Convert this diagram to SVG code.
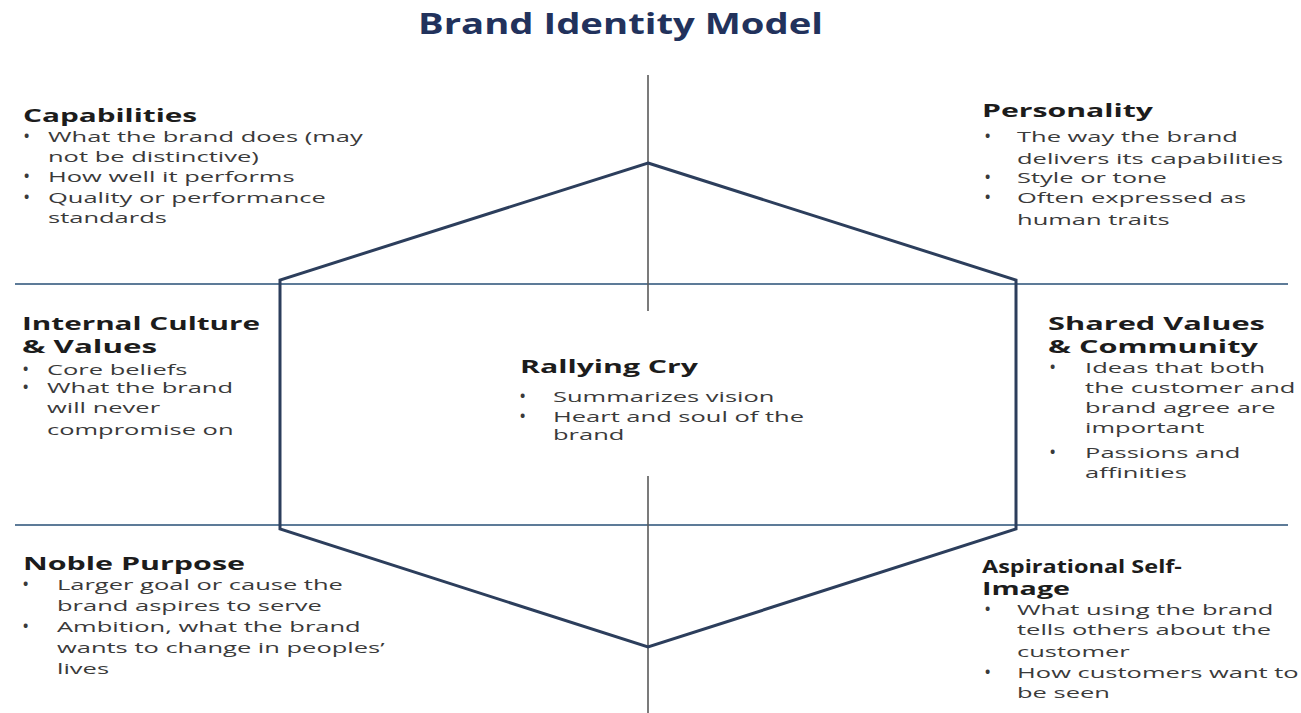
<svg xmlns="http://www.w3.org/2000/svg" width="1301" height="713" viewBox="0 0 1301 713">
<style>
.t{font-family:"Open Sans","Liberation Sans",sans-serif;font-weight:bold;font-size:28px;fill:#22325c}
.h{font-family:"Open Sans","Liberation Sans",sans-serif;font-weight:bold;font-size:17px;fill:#1c1c1c}
.b{font-family:"Open Sans","Liberation Sans",sans-serif;font-size:15px;fill:#3a3a3a}
.d{font-family:"Open Sans","Liberation Sans",sans-serif;font-weight:bold;font-size:14px;fill:#3a3a3a}
.hex{fill:none;stroke:#2c3e5c;stroke-width:3;stroke-linejoin:miter}
.hl{stroke:#5d7b98;stroke-width:2.2}
.vl{stroke:#5a5a5a;stroke-width:1.6}
</style>
<rect width="1301" height="713" fill="#ffffff"/>
<g id="title"><text class="t" x="418" y="34" textLength="405" lengthAdjust="spacingAndGlyphs">Brand Identity Model</text></g>
<g id="connectors">
<line class="hl" x1="15" y1="284" x2="1288" y2="284"/>
<line class="hl" x1="15" y1="525" x2="1288" y2="525"/>
<line class="vl" x1="648" y1="75" x2="648" y2="311"/>
<line class="vl" x1="648" y1="476" x2="648" y2="713"/>
<path class="hex" d="M648,163 L1016,280 L1016,529 L648,647 L280,529 L280,280 Z"/>
</g>
<g id="capabilities">
<text class="d" x="24" y="141">•</text><text class="d" x="24" y="181">•</text><text class="d" x="24" y="202">•</text>
<g transform="translate(23,0) scale(1.7,1)">
<text class="h" x="0" y="122" textLength="102.4" lengthAdjust="spacingAndGlyphs">Capabilities</text>
<text class="b" x="14.7" y="142">What the brand does (may</text>
<text class="b" x="14.7" y="162">not be distinctive)</text>
<text class="b" x="14.7" y="182">How well it performs</text>
<text class="b" x="14.7" y="203">Quality or performance</text>
<text class="b" x="14.7" y="223">standards</text>
</g>
</g>
<g id="personality">
<text class="d" x="985" y="141">•</text><text class="d" x="985" y="182">•</text><text class="d" x="985" y="202">•</text>
<g transform="translate(982,0) scale(1.7,1)">
<text class="h" x="0" y="117" textLength="100.6" lengthAdjust="spacingAndGlyphs">Personality</text>
<text class="b" x="20.6" y="142">The way the brand</text>
<text class="b" x="20.6" y="164">delivers its capabilities</text>
<text class="b" x="20.6" y="183">Style or tone</text>
<text class="b" x="20.6" y="203">Often expressed as</text>
<text class="b" x="20.6" y="225">human traits</text>
</g>
</g>
<g id="internal-culture">
<text class="d" x="23" y="374">•</text><text class="d" x="23" y="392">•</text>
<g transform="translate(22,0) scale(1.7,1)">
<text class="h" x="0" y="330" textLength="140" lengthAdjust="spacingAndGlyphs">Internal Culture</text>
<text class="h" x="0" y="353" textLength="79.4" lengthAdjust="spacingAndGlyphs">&amp; Values</text>
<text class="b" x="14.7" y="375">Core beliefs</text>
<text class="b" x="14.7" y="393">What the brand</text>
<text class="b" x="14.7" y="413">will never</text>
<text class="b" x="14.7" y="435">compromise on</text>
</g>
</g>
<g id="rallying-cry">
<text class="d" x="520" y="401">•</text><text class="d" x="520" y="421">•</text>
<g transform="translate(520,0) scale(1.7,1)">
<text class="h" x="0" y="373" textLength="104.7" lengthAdjust="spacingAndGlyphs">Rallying Cry</text>
<text class="b" x="19.4" y="402">Summarizes vision</text>
<text class="b" x="19.4" y="422">Heart and soul of the</text>
<text class="b" x="19.4" y="440">brand</text>
</g>
</g>
<g id="shared-values">
<text class="d" x="1050" y="372">•</text><text class="d" x="1050" y="457">•</text>
<g transform="translate(1048,0) scale(1.7,1)">
<text class="h" x="0" y="330" textLength="127.6" lengthAdjust="spacingAndGlyphs">Shared Values</text>
<text class="h" x="0" y="353" textLength="123.5" lengthAdjust="spacingAndGlyphs">&amp; Community</text>
<text class="b" x="21.8" y="373">Ideas that both</text>
<text class="b" x="21.8" y="393">the customer and</text>
<text class="b" x="21.8" y="413">brand agree are</text>
<text class="b" x="21.8" y="433">important</text>
<text class="b" x="21.8" y="458">Passions and</text>
<text class="b" x="21.8" y="478">affinities</text>
</g>
</g>
<g id="noble-purpose">
<text class="d" x="23" y="589">•</text><text class="d" x="23" y="631">•</text>
<g transform="translate(23,0) scale(1.7,1)">
<text class="h" x="0" y="570" textLength="130.6" lengthAdjust="spacingAndGlyphs">Noble Purpose</text>
<text class="b" x="20" y="590">Larger goal or cause the</text>
<text class="b" x="20" y="611">brand aspires to serve</text>
<text class="b" x="20" y="632">Ambition, what the brand</text>
<text class="b" x="20" y="653">wants to change in peoples’</text>
<text class="b" x="20" y="674">lives</text>
</g>
</g>
<g id="aspirational-self-image">
<text class="d" x="985" y="614">•</text><text class="d" x="985" y="677">•</text>
<g transform="translate(982,0) scale(1.7,1)">
<text class="h" x="0" y="573" textLength="117.6" lengthAdjust="spacingAndGlyphs">Aspirational Self-</text>
<text class="h" x="0" y="595" textLength="51.8" lengthAdjust="spacingAndGlyphs">Image</text>
<text class="b" x="20.6" y="615">What using the brand</text>
<text class="b" x="20.6" y="635">tells others about the</text>
<text class="b" x="20.6" y="657">customer</text>
<text class="b" x="20.6" y="678">How customers want to</text>
<text class="b" x="20.6" y="698">be seen</text>
</g>
</g>
</svg>
